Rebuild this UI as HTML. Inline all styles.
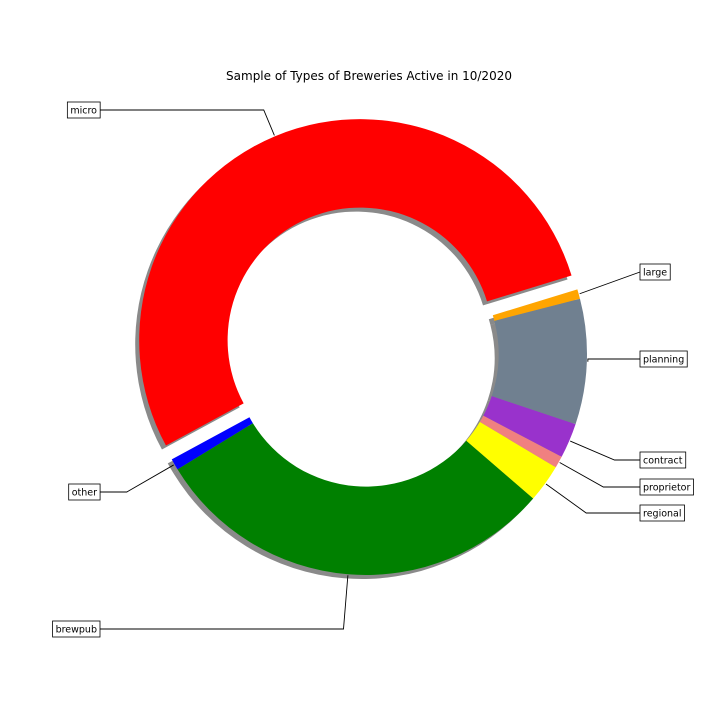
<!DOCTYPE html>
<html><head><meta charset="utf-8"><style>
body{margin:0;background:#fff;}
svg{display:block;font-family:"DejaVu Sans","Liberation Sans",sans-serif;}
</style></head><body>
<svg id="chart" width="720" height="720" viewBox="0 0 720 720">
<text x="369" y="80" text-anchor="middle" font-size="12">Sample of Types of Breweries Active in 10/2020</text>
<g id="shadows"></g>
<g id="wedges"></g>
<g id="labels"></g>
</svg>
<script>
const categories = ["micro","other","brewpub","regional","proprietor","contract","planning","large"];
const values = [191, 3, 107.4, 10, 3.1, 9.2, 32.9, 2.5];
const colors = ["#ff0000","#0000ff","#008000","#ffff00","#f08080","#9932cc","#708090","#ffa500"];
const explode = [1,0,0,0,0,0,0,0];
const labelY = [110, 492, 629, 513, 487, 460, 359, 272];

const NS="http://www.w3.org/2000/svg";
const cx=366, cy=354, R=221, r=R*0.6, startAngle=17, explodeDist=15;
const total=values.reduce((a,b)=>a+b,0);
const rad=d=>d*Math.PI/180;
function pt(x,y,rr,a){return [x+rr*Math.cos(rad(a)), y-rr*Math.sin(rad(a))];}
function arcPath(x,y,a0,a1){
  const large=(a1-a0)>180?1:0;
  const p0=pt(x,y,R,a0),p1=pt(x,y,R,a1),q1=pt(x,y,r,a1),q0=pt(x,y,r,a0);
  return `M${p0[0]},${p0[1]} A${R},${R} 0 ${large} 0 ${p1[0]},${p1[1]} L${q1[0]},${q1[1]} A${r},${r} 0 ${large} 1 ${q0[0]},${q0[1]} Z`;
}
const sg=document.getElementById('shadows'), wg=document.getElementById('wedges'), lg=document.getElementById('labels');
let a=startAngle;
categories.forEach((c,i)=>{
  const sweep=values[i]/total*360;
  const a0=a, a1=a+sweep, mid=(a0+a1)/2; a=a1;
  const ox=cx+explode[i]*explodeDist*Math.cos(rad(mid)), oy=cy-explode[i]*explodeDist*Math.sin(rad(mid));
  const s=document.createElementNS(NS,'path');
  s.setAttribute('d',arcPath(ox-4,oy+4,a0,a1));
  s.setAttribute('fill','rgba(60,60,60,0.6)');
  
  
  sg.appendChild(s);
  const w=document.createElementNS(NS,'path');
  w.setAttribute('d',arcPath(ox,oy,a0,a1));
  w.setAttribute('fill',colors[i]);
  
  
  wg.appendChild(w);
  const p=pt(ox,oy,R+1,mid);
  const ty=labelY[i];
  const left=Math.cos(rad(mid))<0;
  const dy=p[1]-ty;
  let ex=p[0];
  const t=Math.tan(rad(mid));
  if(Math.abs(t)>1e-3) ex=p[0]+dy/t;
  const bx=left?100:640;
  if(left){ ex=Math.min(ex,p[0]); ex=Math.max(ex,bx); }
  else { ex=Math.max(ex,p[0]); ex=Math.min(ex,bx); }
  const ln=document.createElementNS(NS,'polyline');
  ln.setAttribute('points',`${p[0]},${p[1]} ${ex},${ty} ${bx},${ty}`);
  ln.setAttribute('fill','none');ln.setAttribute('stroke','#000');ln.setAttribute('stroke-width','0.9');
  
  
  lg.appendChild(ln);
  const tx=document.createElementNS(NS,'text');
  tx.textContent=c;
  tx.setAttribute('font-size','9.5');
  tx.setAttribute('x',left?bx-3:bx+3);
  tx.setAttribute('y',ty+3.5);
  tx.setAttribute('text-anchor',left?'end':'start');
  
  
  lg.appendChild(tx);
  const bb=tx.getBBox();
  const rect=document.createElementNS(NS,'rect');
  rect.setAttribute('x',bb.x-3);rect.setAttribute('y',ty-8);
  rect.setAttribute('width',bb.width+6);rect.setAttribute('height',16);
  rect.setAttribute('fill','#fff');rect.setAttribute('stroke','#000');rect.setAttribute('stroke-width','0.8');
  
  
  lg.insertBefore(rect,tx);
});
</script>
</body></html>
